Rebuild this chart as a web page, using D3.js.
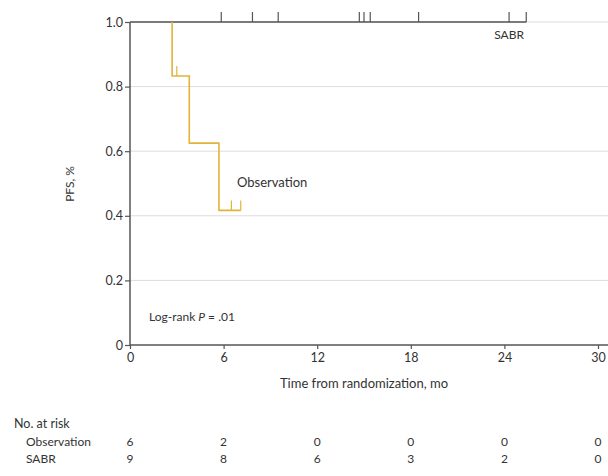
<!DOCTYPE html>
<html><head><meta charset="utf-8">
<script src="https://cdn.jsdelivr.net/npm/d3@7"></script>
<style>
html,body{margin:0;padding:0;background:#fff;}
svg text{font-family:Lato,"Open Sans",sans-serif;fill:#333;}
</style></head>
<body>
<script>
// Kaplan-Meier step data (time in months, survival proportion)
const obsSteps = [[0,1],[2.7,0.833],[3.8,0.625],[5.7,0.4167],[7.1,0.4167]];
const obsStart = 2.7;
const obsCensor = [[3.0,0.833],[6.5,0.4167],[7.1,0.4167]];
const sabrEnd = 25.4;
const sabrCensor = [5.85,7.85,9.5,14.7,15.0,15.4,18.5,24.3,25.4];
const xTicks = [0,6,12,18,24,30];
const yTicks = [0,0.2,0.4,0.6,0.8,1.0];
const yTickLabels = ["0","0.2","0.4","0.6","0.8","1.0"];
const riskGroups = ["Observation","SABR"];
const riskObs = [6,2,0,0,0,0];
const riskSabr = [9,8,6,3,2,0];

const W=608,H=476;
const svg=d3.select("body").append("svg").attr("width",W).attr("height",H);
const x=d3.scaleLinear().domain([0,30]).range([130,598]);
const y=d3.scaleLinear().domain([0,1]).range([345,22]);

// gridlines
svg.append("g").selectAll("line").data(yTicks.filter(d=>d>0)).join("line")
  .attr("x1",x(0)).attr("x2",W).attr("y1",d=>y(d)).attr("y2",d=>y(d))
  .attr("stroke","#dcdcdc").attr("stroke-width",1);

// axes
const yAxis=d3.axisLeft(y).tickValues(yTicks).tickFormat((d,i)=>yTickLabels[i]).tickSize(5).tickPadding(2);
const gy=svg.append("g").attr("transform",`translate(${x(0)},0)`).call(yAxis);
const xAxis=d3.axisBottom(x).tickValues(xTicks).tickSize(4).tickPadding(4);
const gx=svg.append("g").attr("transform",`translate(0,${y(0)})`).call(xAxis);
[gx,gy].forEach(g=>{
  g.select(".domain").attr("stroke","#555").attr("stroke-width",1.5);
  g.selectAll(".tick line").attr("stroke","#555").attr("stroke-width",1.2);
  g.selectAll(".tick text").attr("font-size",12.5).attr("fill","#444").style("font-family","Lato,sans-serif");
});
gy.select(".domain").attr("d",`M0,${y(0)}V${y(1)}`);
gx.select(".domain").attr("d",`M${x(0)},0H${W}`);

// SABR curve at 1.0
svg.append("line").attr("x1",x(0)).attr("x2",x(sabrEnd)).attr("y1",y(1)).attr("y2",y(1))
  .attr("stroke","#555").attr("stroke-width",1.5);
svg.append("g").selectAll("line").data(sabrCensor).join("line")
  .attr("x1",d=>x(d)).attr("x2",d=>x(d)).attr("y1",y(1)).attr("y2",y(1)-10)
  .attr("stroke","#555").attr("stroke-width",1.2);

// Observation curve
const obsPts=obsSteps.filter(d=>d[0]>=obsStart);
const line=d3.line().x(d=>x(d[0])).y(d=>y(d[1])).curve(d3.curveStepAfter);
svg.append("path").datum([[obsStart,1],...obsPts])
  .attr("d",line).attr("fill","none").attr("stroke","#e2b43c").attr("stroke-width",1.6);
svg.append("g").selectAll("line").data(obsCensor).join("line")
  .attr("x1",d=>x(d[0])).attr("x2",d=>x(d[0])).attr("y1",d=>y(d[1])).attr("y2",d=>y(d[1])-10)
  .attr("stroke","#e2b43c").attr("stroke-width",1.2);

// labels
svg.append("text").attr("x",x(24.3)).attr("y",39).attr("font-size",12).attr("text-anchor","middle").text("SABR");
svg.append("text").attr("x",237).attr("y",187).attr("font-size",13).text("Observation");
const lr=svg.append("text").attr("x",149).attr("y",321).attr("font-size",12);
lr.append("tspan").text("Log-rank ");
lr.append("tspan").attr("font-style","italic").text("P");
lr.append("tspan").text(" = .01");
svg.append("text").attr("transform","translate(74,184) rotate(-90)").attr("text-anchor","middle").attr("font-size",12).text("PFS, %");
svg.append("text").attr("x",x(15)).attr("y",388).attr("text-anchor","middle").attr("font-size",13).text("Time from randomization, mo");

// number at risk
svg.append("text").attr("x",14).attr("y",428).attr("font-size",12.5).text("No. at risk");
const rows=[riskObs,riskSabr];
rows.forEach((r,i)=>{
  const yy=446+i*17;
  svg.append("text").attr("x",26).attr("y",yy).attr("font-size",12).text(riskGroups[i]);
  svg.append("g").selectAll("text").data(r).join("text")
    .attr("x",(d,j)=>x(xTicks[j])).attr("y",yy).attr("font-size",12).attr("text-anchor","middle").attr("fill","#555").text(d=>d);
});
</script>
</body></html>
